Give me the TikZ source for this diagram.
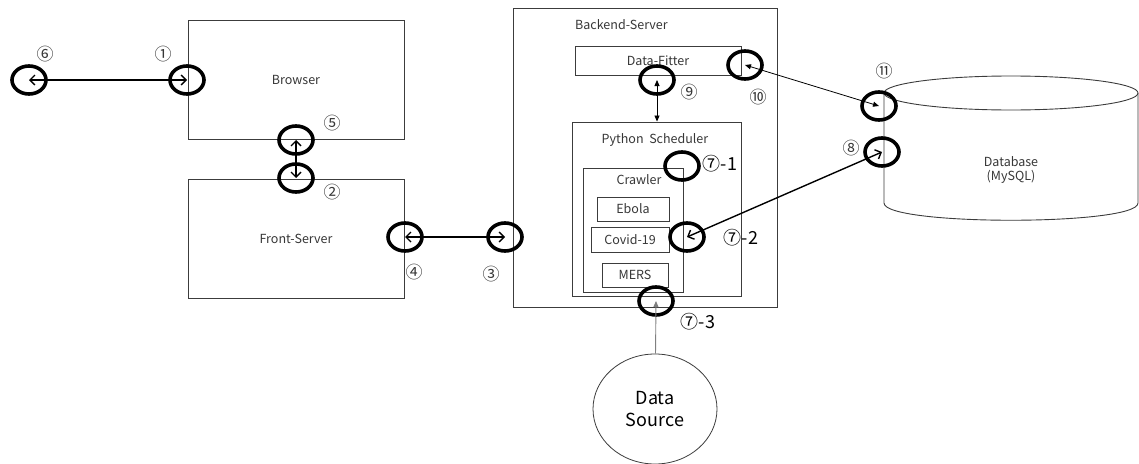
\documentclass[tikz,border=0pt]{standalone}
\usepackage{fontspec}
\setmainfont{Noto Sans CJK KR}
\usetikzlibrary{arrows.meta,shapes.geometric}
\definecolor{boxgray}{RGB}{60,60,60}
\definecolor{txtgray}{RGB}{55,55,55}

\begin{document}
\begin{tikzpicture}[x=1pt,y=-1pt,
  box/.style={draw=boxgray,line width=0.9pt,inner sep=0pt,font=\fontsize{12.5}{14}\selectfont,text=txtgray},
  lbl/.style={inner sep=0pt,font=\fontsize{12.5}{14}\selectfont,text=txtgray},
  ring/.style={draw,ellipse,line width=3.6pt,minimum width=34pt,minimum height=28pt,inner sep=0pt},
  num/.style={inner sep=0pt,font=\fontsize{17}{19}\selectfont,text=txtgray},
  bignum/.style={inner sep=0pt,font=\fontsize{18}{20}\selectfont},
  barb/.style={line width=1.4pt,{Straight Barb[length=5pt,width=10pt]}-{Straight Barb[length=5pt,width=10pt]}},
  tip/.style={line width=0.8pt,{Triangle[length=6pt,width=5pt]}-{Triangle[length=6pt,width=5pt]}}]
\useasboundingbox (0,0) rectangle (1139,463);

% boxes
\node[box,minimum width=216pt,minimum height=119pt] (browser) at (296,79.5) {Browser};
\node[box,minimum width=216pt,minimum height=119pt] (front) at (296,238.5) {Front-Server};
\node[box,minimum width=264pt,minimum height=299pt] (backend) at (645,157.5) {};
\node[lbl,anchor=west] (backendlbl) at (575,25) {Backend-Server};
\node[box,minimum width=166pt,minimum height=29pt] (fitter) at (658,60.5) {Data-Fitter};
\node[box,minimum width=169pt,minimum height=174pt] (sched) at (656.5,209) {};
\node[lbl] (schedlbl) at (655,140) {Python\ \ Scheduler};
\node[box,minimum width=100pt,minimum height=124pt] (crawler) at (633,230) {};
\node[lbl] (crawlerlbl) at (639,180) {Crawler};
\node[box,minimum width=72pt,minimum height=24pt] (ebola) at (633,209) {Ebola};
\node[box,minimum width=78pt,minimum height=25pt] (covid) at (630,239.5) {Covid-19};
\node[box,minimum width=66pt,minimum height=24pt] (mers) at (635,275) {MERS};

% database
\draw[boxgray,line width=0.9pt] (1011,93) ellipse [x radius=127pt,y radius=17pt];
\draw[boxgray,line width=0.9pt] (884,93) -- (884,203) .. controls (884,226) and (1138,226) .. (1138,203) -- (1138,93);
\node[lbl,align=center] (db) at (1011,170) {Database\\(MySQL)};

\node[draw=boxgray,ellipse,line width=0.8pt,minimum width=124pt,minimum height=110pt,
  align=center,font=\fontsize{18}{22}\selectfont] (source) at (655,409) {Data\\Source};

% rings
\node[ring] (c6) at (29,80) {};
\node[ring] (c1) at (187,80) {};
\node[ring] (c5) at (296,140) {};
\node[ring] (c2) at (296,178) {};
\node[ring] (c4) at (405,237) {};
\node[ring] (c3) at (505,237) {};
\node[ring] (c9) at (657,80) {};
\node[ring] (c10) at (745,65) {};
\node[ring] (c71) at (682,166) {};
\node[ring] (c72) at (687,237) {};
\node[ring] (c73) at (656,301) {};
\node[ring] (c11) at (879,106) {};
\node[ring] (c8) at (882,152) {};

% connectors
\draw[barb] (c6.center) -- (c1.center);
\draw[barb] (c5.center) -- (c2.center);
\draw[barb] (c4.center) -- (c3.center);
\draw[barb] (c8.center) -- (c72.center);
\draw[tip] (c9.center) -- (c9.center |- sched.north);
\draw[tip] (c10.center) -- (c11.center);
\draw[gray,line width=0.9pt,-{Triangle[length=6pt,width=5pt]}] (source) -- (c73.center);

% numbers
\node[num] (n6) at (45,54) {⑥};
\node[num] (n1) at (163,54) {①};
\node[num] (n5) at (332,123) {⑤};
\node[num] (n2) at (332,192) {②};
\node[num] (n4) at (414,272) {④};
\node[num] (n3) at (491,274) {③};
\node[num] (n9) at (689,92) {⑨};
\node[num] (n10) at (758,97) {⑩};
\node[num] (n11) at (884,71) {⑪};
\node[num] (n8) at (851,148) {⑧};
\node[bignum] (n71) at (720,164) {⑦-1};
\node[bignum] (n72) at (741,238) {⑦-2};
\node[bignum] (n73) at (698,322) {⑦-3};
\end{tikzpicture}
\end{document}
